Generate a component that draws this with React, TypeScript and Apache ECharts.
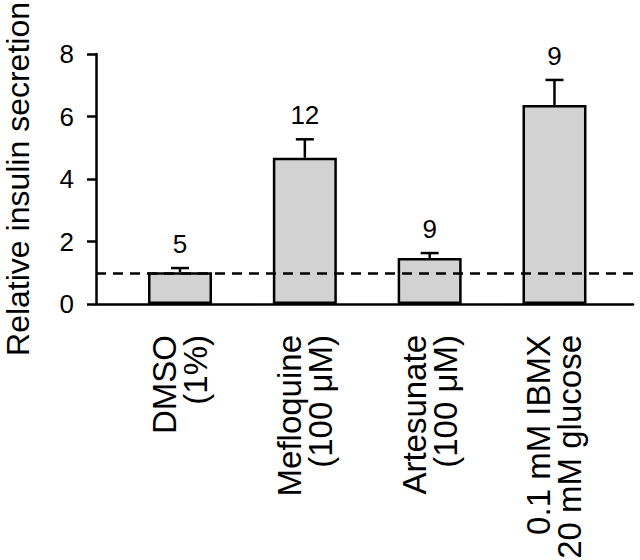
import React, { useEffect, useRef } from "react";
import * as echarts from "echarts";

const categories = ["DMSO\n(1%)", "Mefloquine\n(100 μM)", "Artesunate\n(100 μM)", "0.1 mM IBMX\n20 mM glucose"];
const means = [1.02, 4.68, 1.47, 6.37];
const errors = [0.13, 0.59, 0.16, 0.8];
const counts = [5, 12, 9, 9];
const yTicks = [0, 2, 4, 6, 8];
const baselineRef = 1;

const FONT = "'Liberation Sans', Arial, Helvetica, sans-serif";

export default function App() {
  const ref = useRef<HTMLDivElement>(null);
  useEffect(() => {
    document.body.style.margin = "0";
    const chart = echarts.init(ref.current!, null, { renderer: "svg" });
    const barData = means.map((m, i) => [i, m]);
    const errData = means.map((m, i) => [i, m, m + errors[i], counts[i]]);
    chart.setOption({
      animation: false,
      backgroundColor: "#ffffff",
      textStyle: { fontFamily: FONT, color: "#000" },
      grid: { left: 96, right: 7, top: 54, bottom: 256, outerBoundsMode: "none", containLabel: false },
      xAxis: {
        type: "value",
        min: -0.673,
        max: 3.629,
        splitLine: { show: false },
        axisLine: { show: true, onZero: false, lineStyle: { color: "#000", width: 2.5 } },
        axisTick: { show: false },
        axisLabel: {
          customValues: [0, 1, 2, 3],
          formatter: (v: number) => categories[Math.round(v)] ?? "",
          rotate: 90,
          margin: 31,
          fontSize: 33,
          lineHeight: 31,
          color: "#000",
          fontFamily: FONT,
        },
      },
      yAxis: {
        type: "value",
        min: 0,
        max: 8,
        interval: 2,
        name: "Relative insulin secretion",
        nameLocation: "middle",
        nameGap: 62,
        nameTextStyle: { fontSize: 32, color: "#000", fontFamily: FONT },
        splitLine: { show: false },
        axisLine: { show: true, onZero: false, lineStyle: { color: "#000", width: 2.5 } },
        axisTick: { show: true, inside: false, length: 9, lineStyle: { color: "#000", width: 2.5 } },
        axisLabel: {
          fontSize: 26,
          margin: 22,
          color: "#000",
          fontFamily: FONT,
        },
      },
      series: [
        {
          type: "bar",
          data: barData,
          barWidth: 64,
          itemStyle: { color: "#d2d2d2", borderColor: "#000", borderWidth: 2.5 },
          markLine: {
            silent: true,
            symbol: "none",
            label: { show: false },
            lineStyle: { color: "#000", width: 2.5, type: [10, 7] },
            data: [{ yAxis: baselineRef }],
          },
          z: 2,
        },
        {
          type: "custom",
          data: errData,
          z: 3,
          renderItem: (params: any, api: any) => {
            const x = api.value(0);
            const lo = api.coord([x, api.value(1)]);
            const hi = api.coord([x, api.value(2)]);
            const n = api.value(3);
            const style = { stroke: "#000", lineWidth: 2.5 };
            return {
              type: "group",
              children: [
                { type: "line", shape: { x1: lo[0], y1: lo[1], x2: hi[0], y2: hi[1] }, style },
                { type: "line", shape: { x1: hi[0] - 9, y1: hi[1], x2: hi[0] + 9, y2: hi[1] }, style },
                {
                  type: "text",
                  x: hi[0],
                  y: hi[1] - 11,
                  style: {
                    text: String(n),
                    fontSize: 26,
                    fontFamily: FONT,
                    fill: "#000",
                    align: "center",
                    verticalAlign: "bottom",
                  },
                },
              ],
            };
          },
        },
      ],
    });
    return () => chart.dispose();
  }, []);
  return <div ref={ref} style={{ width: 640, height: 560 }} />;
}
